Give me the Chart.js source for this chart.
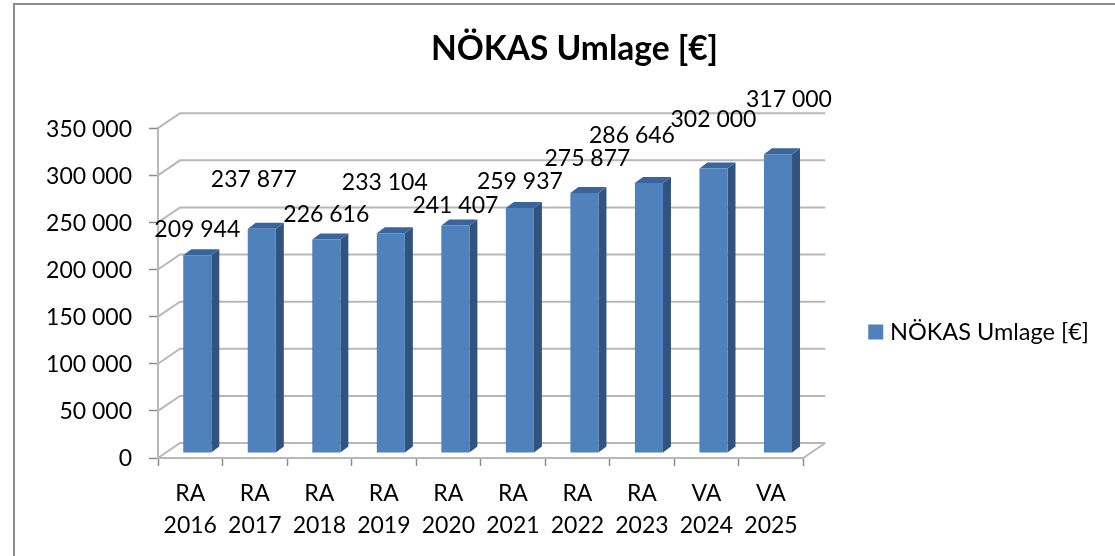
<!DOCTYPE html>
<html>
<head>
<meta charset="utf-8">
<title>NÖKAS Umlage</title>
<script src="https://cdn.jsdelivr.net/npm/chart.js@4"></script>
<style>
  html, body { margin: 0; padding: 0; background: #fff; overflow: hidden; width: 1115px; height: 556px; }
  #frame { position: absolute; left: 13px; top: 3px; border-left: 2px solid #8c8c8c; border-top: 2px solid #8c8c8c; width: 1117px; height: 654px; }
  canvas { display: block; filter: blur(0.4px); }
</style>
</head>
<body>
<div id="frame"><canvas id="myChart" width="1117" height="654"></canvas></div>
<script>
const ctx = document.getElementById('myChart');

// Values
const categories = [['RA', '2016'], ['RA', '2017'], ['RA', '2018'], ['RA', '2019'], ['RA', '2020'],
                    ['RA', '2021'], ['RA', '2022'], ['RA', '2023'], ['VA', '2024'], ['VA', '2025']];
const umlage = [209944, 237877, 226616, 233104, 241407, 259937, 275877, 286646, 302000, 317000];
const seriesName = 'NÖKAS Umlage [€]';

const fontFamily = 'Lato, "Open Sans", sans-serif';
const gridColor = '#b8b8b8';

// fake 3D: how far the back wall and the bars are pushed into the depth
const wall = { x: 22, y: -15 };
const barShift = { x: 7, y: -5 };
const barDepth = { x: 8, y: -6 };

// the labels are scattered in the original, offsets from the top of each bar
const labelDx = [7, -1, 7, 1, 7, 7, 10, -10, 7, 18];
const labelDy = [-31, -54, -30, -56, -25, -31, -39, -52, -54, -60];

function spaced(value) {
  return String(value).replace(/\B(?=(\d{3})+$)/g, ' ');
}

function line(c, points) {
  c.beginPath();
  points.forEach((p, i) => i ? c.lineTo(p[0], p[1]) : c.moveTo(p[0], p[1]));
  c.stroke();
}

function poly(c, points, fill) {
  c.fillStyle = fill;
  c.beginPath();
  points.forEach((p, i) => i ? c.lineTo(p[0], p[1]) : c.moveTo(p[0], p[1]));
  c.closePath();
  c.fill();
}

const fake3d = {
  id: 'fake3d',
  afterLayout(chart) {
    // the title is centred on the whole object, which runs past the picture
    chart.titleBlock.left = 0;
    chart.titleBlock.right = 1119;
    // the legend box gets capped by the layout and would clip its text
    chart.legend.right = chart.width;
  },
  // back wall grid and floor
  beforeDatasetsDraw(chart) {
    const c = chart.ctx;
    const area = chart.chartArea;
    const yScale = chart.scales.y;
    c.save();
    c.strokeStyle = gridColor;
    c.lineWidth = 2;
    yScale.ticks.forEach(t => {
      const y = yScale.getPixelForValue(t.value);
      line(c, [[area.left, y], [area.left + wall.x, y + wall.y], [area.right + wall.x, y + wall.y]]);
    });
    line(c, [[area.right, area.bottom], [area.right + wall.x, area.bottom + wall.y]]);
    c.restore();
  },
  // side and top of each bar, then shift the front faces back
  beforeDatasetDraw(chart, args) {
    const c = chart.ctx;
    chart.getDatasetMeta(args.index).data.forEach(b => {
      const r = b.x + b.width / 2 + barShift.x;
      const l = b.x - b.width / 2 + barShift.x;
      const top = b.y + barShift.y;
      const bottom = b.base + barShift.y;
      poly(c, [[r, top], [r + barDepth.x, top + barDepth.y], [r + barDepth.x, bottom + barDepth.y], [r, bottom]], '#30547f');
      poly(c, [[l, top], [l + barDepth.x, top + barDepth.y], [r + barDepth.x, top + barDepth.y], [r, top]], '#3a649a');
    });
    c.save();
    c.translate(barShift.x, barShift.y);
  },
  afterDatasetDraw(chart) {
    chart.ctx.restore();
  },
  afterDatasetsDraw(chart) {
    const c = chart.ctx;
    c.save();
    c.font = '23px ' + fontFamily;
    c.fillStyle = '#000';
    c.textAlign = 'center';
    c.textBaseline = 'middle';
    chart.getDatasetMeta(0).data.forEach((b, i) => {
      c.fillText(spaced(umlage[i]), b.x + labelDx[i], b.y + labelDy[i]);
    });
    c.restore();
  }
};

new Chart(ctx, {
  type: 'bar',
  data: {
    labels: categories,
    datasets: [{
      label: seriesName,
      data: umlage,
      backgroundColor: '#4f81bd',
      borderWidth: 0,
      barPercentage: 1,
      categoryPercentage: 0.435
    }]
  },
  options: {
    responsive: false,
    animation: false,
    layout: { padding: { left: 0, top: 0, right: 66, bottom: 0 } },
    plugins: {
      tooltip: { enabled: false },
      title: {
        display: true,
        text: seriesName,
        color: '#000',
        font: { family: fontFamily, size: 33.5, weight: 'bold', lineHeight: 1.2 },
        padding: { top: 24, bottom: 59 }
      },
      legend: {
        position: 'right',
        labels: {
          color: '#000',
          font: { family: fontFamily, size: 23.5 },
          usePointStyle: true,
          pointStyle: 'rect',
          boxWidth: 5,
          boxHeight: 15,
          padding: 70
        }
      }
    },
    scales: {
      x: {
        afterFit(scale) { scale.height = 201; },
        border: { color: gridColor, width: 2 },
        grid: { drawOnChartArea: false, drawTicks: true, tickLength: 8, tickColor: '#8c8c8c', tickWidth: 1.5 },
        ticks: {
          color: '#000',
          maxRotation: 0,
          autoSkip: false,
          padding: 12,
          font: { family: fontFamily, size: 23, lineHeight: 32 / 23 }
        }
      },
      y: {
        min: 0,
        max: 350000,
        afterFit(scale) { scale.width = 143; },
        border: { color: gridColor, width: 2 },
        grid: { drawOnChartArea: false, drawTicks: true, tickLength: 9, tickColor: '#8c8c8c', tickWidth: 1.5 },
        ticks: {
          stepSize: 50000,
          color: '#000',
          padding: 17,
          labelOffset: 1,
          font: { family: fontFamily, size: 23 },
          callback: value => spaced(value)
        }
      }
    }
  },
  plugins: [fake3d]
});
</script>
</body>
</html>
